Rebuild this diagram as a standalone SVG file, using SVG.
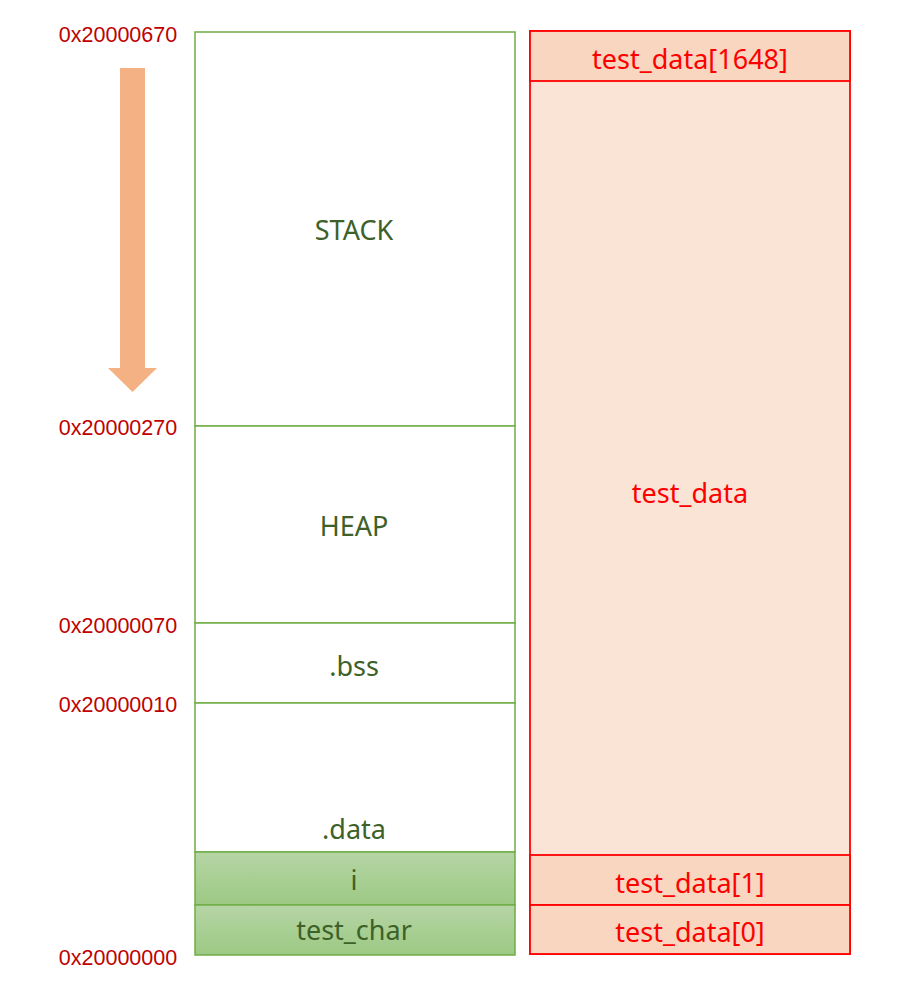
<svg xmlns="http://www.w3.org/2000/svg" width="915" height="992" viewBox="0 0 915 992">
<defs>
<linearGradient id="gg" x1="0" y1="0" x2="0" y2="1">
<stop offset="0" stop-color="#B6D5A6"/>
<stop offset="1" stop-color="#9CC983"/>
</linearGradient>
<style>
.addr{font-family:"Liberation Sans",Arial,sans-serif;font-size:21.5px;fill:#C00000;text-anchor:middle;dominant-baseline:central}
.gt{font-family:"Noto Sans","Liberation Sans",sans-serif;font-size:27px;fill:#3D6128;text-anchor:middle;dominant-baseline:central}
.rt{font-family:"Noto Sans","Liberation Sans",sans-serif;font-size:27px;fill:#FF0000;text-anchor:middle;dominant-baseline:central}
.gbox{fill:#FFFFFF;stroke:#70AD47;stroke-width:1.5}
.gvar{fill:url(#gg);stroke:#70AD47;stroke-width:1.5}
.rbig{fill:#FAE4D6;stroke:#FF0000;stroke-width:1.8}
.rsm{fill:#F8D6BF;stroke:#FF0000;stroke-width:1.8}
</style>
</defs>
<rect width="915" height="992" fill="#FFFFFF"/>
<g id="addresses">
<text class="addr" x="118" y="35">0x20000670</text>
<text class="addr" x="118" y="428">0x20000270</text>
<text class="addr" x="118" y="626">0x20000070</text>
<text class="addr" x="118" y="705">0x20000010</text>
<text class="addr" x="118" y="958">0x20000000</text>
</g>
<g id="arrow">
<polygon points="120,68 145,68 145,368 157,368 132.5,392 108,368 120,368" fill="#F4B183"/>
</g>
<g id="stack"><rect class="gbox" x="195" y="32" width="320" height="394"/><text class="gt" x="354" y="229">STACK</text></g>
<g id="heap"><rect class="gbox" x="195" y="426" width="320" height="197"/><text class="gt" x="354" y="525">HEAP</text></g>
<g id="bss"><rect class="gbox" x="195" y="623" width="320" height="80"/><text class="gt" x="354" y="665">.bss</text></g>
<g id="data"><rect class="gbox" x="195" y="703" width="320" height="149"/><text class="gt" x="354" y="828">.data</text></g>
<g id="var_i"><rect class="gvar" x="195" y="852" width="320" height="53"/><text class="gt" x="354" y="879">i</text></g>
<g id="var_test_char"><rect class="gvar" x="195" y="905" width="320" height="50"/><text class="gt" x="354" y="929">test_char</text></g>
<g id="test_data"><rect class="rbig" x="530" y="31" width="320" height="923"/><text class="rt" x="690" y="492">test_data</text></g>
<g id="test_data_1648"><rect class="rsm" x="530" y="31" width="320" height="50"/><text class="rt" x="690" y="58">test_data[1648]</text></g>
<g id="test_data_1"><rect class="rsm" x="530" y="855" width="320" height="50"/><text class="rt" x="690" y="882">test_data[1]</text></g>
<g id="test_data_0"><rect class="rsm" x="530" y="905" width="320" height="49"/><text class="rt" x="690" y="931">test_data[0]</text></g>
<g id="connectors"></g>
</svg>
